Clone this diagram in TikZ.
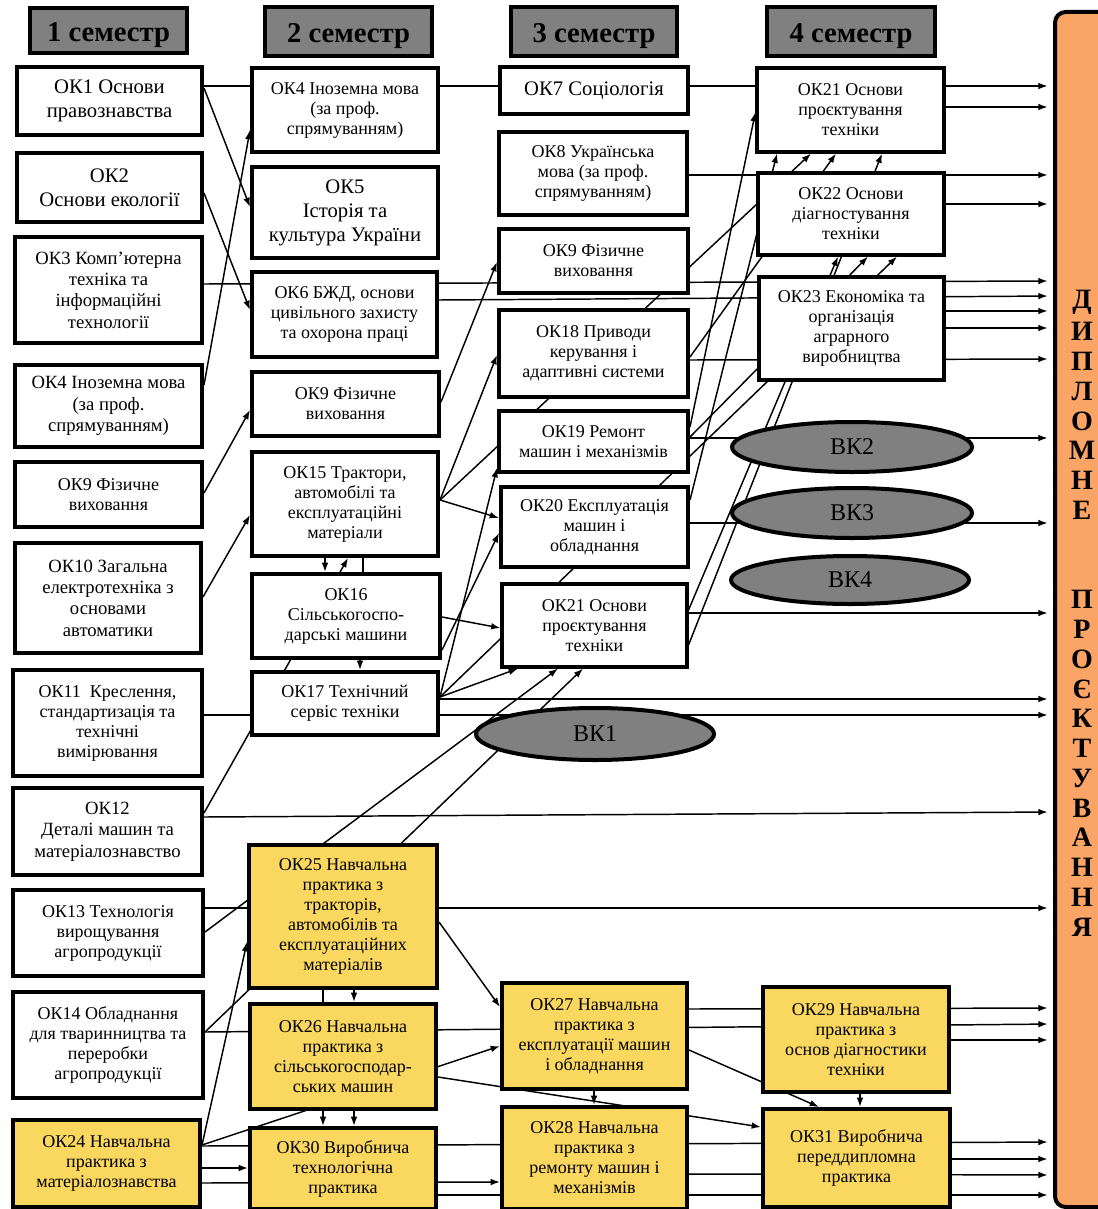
\documentclass[tikz,border=0pt]{standalone}
\usepackage{fontspec}
\setmainfont{Liberation Serif}
\usetikzlibrary{shapes.geometric,arrows.meta}
\pgfdeclarelayer{bg}
\pgfsetlayers{bg,main}
\definecolor{gold}{RGB}{250,215,95}
\definecolor{dorange}{RGB}{250,164,102}
\definecolor{greyfill}{RGB}{128,128,128}
\newcommand\bx[7]{\node[#6, minimum width={(#4-#2)*0.75pt}, minimum height={(#5-#3)*0.75pt}] (#1) at ({(#2+#4)/2},{(#3+#5)/2}) {#7};}
\tikzset{
  box/.style={draw, line width=3pt, fill=white, inner sep=0pt, align=center, font=\fontsize{13.5}{15}\selectfont},
  tbox/.style={box, line width=2.3pt},
  ybox/.style={box, fill=gold},
  big/.style={font=\fontsize{15.5}{18}\selectfont},
  mid/.style={font=\fontsize{14}{16}\selectfont},
  title/.style={draw, line width=3.5pt, fill=greyfill, inner sep=0pt, text height=16pt, text depth=0pt, font=\fontsize{21.5}{24}\selectfont\bfseries},
  bk/.style={ellipse, draw, line width=3pt, fill=greyfill, inner sep=0pt, font=\fontsize{18}{20}\selectfont},
  dipl/.style={inner sep=0pt, font=\fontsize{21}{22}\selectfont\bfseries},
  conn/.style={line width=1.1pt},
  arr/.style={conn, -{Latex[length=7pt,width=5pt]}},
  darr/.style={arr, shorten >=4pt}
}
\begin{document}
\begin{tikzpicture}[x=0.75pt,y=-0.75pt]
\useasboundingbox (0,0) rectangle (1097,1209);
% diploma
\node[draw, line width=3pt, fill=dorange, rounded corners=8pt, minimum width={55*0.75pt}, minimum height={1195*0.75pt}, inner sep=0pt] (dip) at (1082.5,609.5) {};
\foreach \ch/\k in {Д/0,И/1,П/2,Л/3,О/4,М/5,Н/6,Е/7,П/10,Р/11,О/12,Є/13,К/14,Т/15,У/16,В/17,А/18,Н/19,Н/20,Я/21}
  \node[dipl] (dl\k) at (1082,{302+\k*29.76}) {\ch};
% titles
\bx{t1}{30}{8}{187}{53}{title}{1 семестр}
\bx{t2}{265}{7}{432}{56}{title}{2 семестр}
\bx{t3}{511}{7}{677}{56}{title}{3 семестр}
\bx{t4}{767}{7}{935}{56}{title}{4 семестр}
% column 1
\bx{ok1}{17}{67}{202}{135}{box,big}{ОК1 Основи\\правознавства}
\bx{ok2}{17}{153}{202}{222}{box,big}{ОК2\\Основи екології}
\bx{ok3}{15}{237}{202}{343}{box,mid}{ОК3 Комп’ютерна\\техніка та\\інформаційні\\технології}
\bx{ok4a}{15}{365}{202}{447}{box,mid}{ОК4 Іноземна мова\\(за проф.\\спрямуванням)}
\bx{ok9a}{15}{462}{202}{527}{box}{ОК9 Фізичне\\виховання}
\bx{ok10}{15}{543}{201}{653}{box,mid}{ОК10 Загальна\\електротехніка з\\основами\\автоматики}
\bx{ok11}{13}{670}{202}{776}{box}{ОК11 \ Креслення,\\стандартизація та\\технічні\\вимірювання}
\bx{ok12}{13}{788}{202}{875}{box,mid}{ОК12\\Деталі машин та\\матеріалознавство}
\bx{ok13}{13}{890}{203}{976}{box}{ОК13 Технологія\\вирощування\\агропродукції}
\bx{ok14}{13}{992}{203}{1098}{box}{ОК14 Обладнання\\для тваринництва та\\переробки\\агропродукції}
\bx{ok24}{13}{1120}{200}{1207}{ybox}{ОК24 Навчальна\\практика з\\матеріалознавства}
% column 2
\bx{ok4b}{252}{68}{438}{152}{box}{ОК4 Іноземна мова\\(за проф.\\спрямуванням)}
\bx{ok5}{252}{167}{438}{258}{box,big}{ОК5\\Історія та\\культура України}
\bx{ok6}{252}{272}{437}{357}{box}{ОК6 БЖД, основи\\цивільного захисту\\та охорона праці}
\bx{ok9b}{252}{372}{439}{436}{box}{ОК9 Фізичне\\виховання}
\bx{ok15}{252}{452}{438}{556}{box}{ОК15 Трактори,\\автомобілі та\\експлуатаційні\\матеріали}
\bx{ok16}{252}{574}{440}{658}{box}{ОК16\\Сільськогоспо-\\дарські машини}
\bx{ok17}{252}{672}{438}{735}{box}{ОК17 Технічний\\сервіс техніки}
\bx{ok25}{249}{845}{437}{988}{ybox}{ОК25 Навчальна\\практика з\\тракторів,\\автомобілів та\\експлуатаційних\\матеріалів}
\bx{ok26}{250}{1004}{436}{1109}{ybox}{ОК26 Навчальна\\практика з\\сільськогосподар-\\ських машин}
\bx{ok30}{250}{1128}{436}{1209}{ybox}{ОК30 Виробнича\\технологічна\\практика}
% column 3
\bx{ok7}{500}{67}{688}{114}{box,big}{ОК7 Соціологія}
\bx{ok8}{499}{132}{687}{215}{box}{ОК8 Українська\\мова (за проф.\\спрямуванням)}
\bx{ok9c}{499}{229}{688}{293}{box}{ОК9 Фізичне\\виховання}
\bx{ok18}{499}{310}{688}{397}{box}{ОК18 Приводи\\керування і\\адаптивні системи}
\bx{ok19}{499}{411}{688}{472}{box}{ОК19 Ремонт\\машин і механізмів}
\bx{ok20}{501}{487}{688}{567}{box}{ОК20 Експлуатація\\машин і\\обладнання}
\bx{ok21a}{502}{584}{687}{667}{tbox}{ОК21 Основи\\проєктування\\техніки}
\bx{ok27}{502}{983}{687}{1089}{ybox}{ОК27 Навчальна\\практика з\\експлуатації машин\\і обладнання}
\bx{ok28}{502}{1107}{687}{1209}{ybox}{ОК28 Навчальна\\практика з\\ремонту машин і\\механізмів}
\node[bk, minimum width={238*0.75pt}, minimum height={52*0.75pt}] (bk1) at (595,734) {ВК1};
% column 4
\bx{ok21b}{757}{68}{944}{152}{tbox}{ОК21 Основи\\проєктування\\техніки}
\bx{ok22}{758}{173}{944}{255}{tbox}{ОК22 Основи\\діагностування\\техніки}
\bx{ok23}{759}{277}{944}{380}{tbox}{ОК23 Економіка та\\організація\\аграрного\\виробництва}
\node[bk, minimum width={240*0.75pt}, minimum height={50*0.75pt}] (bk2) at (852,447) {ВК2};
\node[bk, minimum width={240*0.75pt}, minimum height={50*0.75pt}] (bk3) at (852,513) {ВК3};
\node[bk, minimum width={238*0.75pt}, minimum height={48*0.75pt}] (bk4) at (850,580) {ВК4};
\bx{ok29}{763}{987}{949}{1092}{ybox}{ОК29 Навчальна\\практика з\\основ діагностики\\техніки}
\bx{ok31}{763}{1109}{950}{1207}{ybox}{ОК31 Виробнича\\переддипломна\\практика}

\begin{pgfonlayer}{bg}
% lines to the diploma
\draw[darr] (ok1.east |- 0,86) -- (dip.west |- 0,86);
\draw[darr] (ok21b.east |- 0,107) -- (dip.west |- 0,107);
\draw[darr] (ok8.east |- 0,175) -- (dip.west |- 0,175);
\draw[darr] (ok22.east |- 0,204) -- (dip.west |- 0,204);
\draw[darr] (ok3.east |- 0,284) -- (dip.west |- 0,281);
\draw[darr] (ok6.east |- 0,300) -- (dip.west |- 0,296);
\draw[darr] (ok23.east |- 0,311) -- (dip.west |- 0,311);
\draw[darr] (ok23.east |- 0,328) -- (dip.west |- 0,328);
\draw[darr] (ok18.east |- 0,360) -- (dip.west |- 0,359);
\draw[darr] (ok19.east |- 0,438) -- (dip.west |- 0,438);
\draw[darr] (ok20.east |- 0,523) -- (dip.west |- 0,523);
\draw[darr] (ok21a.east |- 0,613) -- (dip.west |- 0,613);
\draw[darr] (ok17.east |- 0,699) -- (dip.west |- 0,699);
\draw[darr] (ok11.east |- 0,715) -- (dip.west |- 0,715);
\draw[darr] (ok12.east |- 0,817) -- (dip.west |- 0,812);
\draw[darr] (ok13.east |- 0,908) -- (dip.west |- 0,908);
\draw[darr] (ok27.east |- 0,1009) -- (dip.west |- 0,1008);
\draw[darr] (ok14.east |- 0,1032) -- (dip.west |- 0,1024);
\draw[darr] (ok29.east |- 0,1040) -- (dip.west |- 0,1040);
\draw[darr] (ok24.east |- 0,1146) -- (dip.west |- 0,1142);
\draw[darr] (ok31.east |- 0,1159) -- (dip.west |- 0,1159);
\draw[darr] (ok28.east |- 0,1174) -- (dip.west |- 0,1175);
\draw[darr] (ok30.east |- 0,1195) -- (dip.west |- 0,1195);
\draw[arr] (ok24.east |- 0,1168) -- (ok30.west |- 0,1168);
\draw[arr] (ok24.east |- 0,1183) -- (ok28.west |- 0,1182);
% column 1 to column 2
\draw[arr] (ok1.east |- 0,88) -- (ok5.west |- 0,207);
\draw[arr] (ok2.east |- 0,193) -- (ok6.west |- 0,310);
\draw[arr] (ok4a.east |- 0,385) -- (ok4b.west |- 0,130);
\draw[arr] (ok9a.east |- 0,493) -- (ok9b.west |- 0,410);
\draw[arr] (ok10.east |- 0,597) -- (ok15.west |- 0,515);
\draw[arr] (ok12.east |- 0,813) -- (ok15.south -| 348,0);
\draw[arr] (ok13.east |- 0,932) -- (ok21a.south -| 558,0);
\draw[arr] (ok14.east |- 0,1032) -- (ok21a.south -| 583,0);
\draw[arr] (ok24.east |- 0,1145) -- (ok25.west |- 0,942);
\draw[arr] (ok24.east |- 0,1145) -- (ok27.west |- 0,1046);
% practice links
\draw[arr] (ok25.east |- 0,922) -- (ok27.west |- 0,1007);
\draw[arr] (ok26.east |- 0,1077) -- (ok31.west |- 0,1127);
\draw[arr] (ok27.east |- 0,1050) -- (ok31.north -| 819,0);
% vertical links
\draw[arr] (ok15.south -| 325,0) -- (ok16.north -| 325,0);
\draw[conn] (ok15.south -| 363,0) -- (ok16.north -| 363,0);
\draw[arr] (ok16.south -| 360,0) -- (ok17.north -| 360,0);
\draw[conn] (ok25.south -| 323,0) -- (ok26.north -| 323,0);
\draw[arr] (ok25.south -| 354,0) -- (ok26.north -| 354,0);
\draw[arr] (ok26.south -| 323,0) -- (ok30.north -| 323,0);
\draw[arr] (ok26.south -| 354,0) -- (ok30.north -| 354,0);
\draw[arr] (ok27.south -| 594,0) -- (ok28.north -| 594,0);
\draw[arr] (ok29.south -| 860,0) -- (ok31.north -| 860,0);
% column 2 to columns 3 and 4
\draw[arr] (ok9b.east |- 0,402) -- (ok9c.west |- 0,262);
\draw[arr] (ok15.east |- 0,500) -- (ok18.west |- 0,355);
\draw[arr] (ok15.east |- 0,500) -- (ok20.west |- 0,518);
\draw[arr] (ok15.east |- 0,500) -- (ok21b.south -| 811,0);
\draw[arr] (ok16.east |- 0,617) -- (ok21a.west |- 0,628);
\draw[arr] (ok16.east |- 0,650) -- (ok20.west |- 0,533);
\draw[arr] (ok17.east |- 0,697) -- (ok19.west |- 0,468);
\draw[arr] (ok17.east |- 0,697) -- (ok21a.south -| 518,0);
\draw[arr] (ok17.east |- 0,697) -- (ok22.south -| 897,0);
% column 3 to column 4
\draw[arr] (ok18.east |- 0,357) -- (ok21b.south -| 836,0);
\draw[arr] (ok19.east |- 0,437) -- (ok22.south -| 868,0);
\draw[arr] (ok21a.east |- 0,610) -- (ok22.south -| 838,0);
\draw[arr] (ok20.east |- 0,500) -- (ok21b.south -| 777,0);
\draw[arr] (ok19.east |- 0,427) -- (ok21b.west |- 0,112);
\draw[arr] (ok21a.east |- 0,645) -- (ok21b.south -| 882,0);
\end{pgfonlayer}
\end{tikzpicture}
\end{document}
